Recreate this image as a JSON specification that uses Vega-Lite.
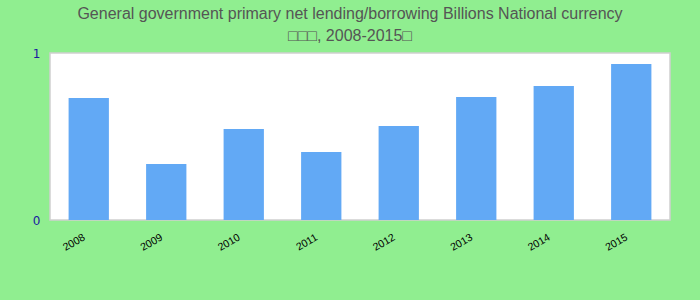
{
  "$schema": "https://vega.github.io/schema/vega-lite/v6.json",
  "width": 620,
  "height": 167,
  "autosize": "none",
  "padding": {"left": 50, "top": 53, "right": 30, "bottom": 80},
  "background": "#90EE90",
  "title": {
    "text": ["General government primary net lending/borrowing Billions National currency", "□□□, 2008-2015□"],
    "font": "Liberation Sans",
    "fontSize": 16,
    "fontWeight": "normal",
    "color": "#555555",
    "lineHeight": 22,
    "anchor": "middle",
    "dx": -10,
    "offset": 3
  },
  "config": {
    "view": {"fill": "white", "stroke": "#d0d0d0", "strokeWidth": 1.5}
  },
  "data": {
    "values": [
      {"year": "2008", "value": 0.73},
      {"year": "2009", "value": 0.335},
      {"year": "2010", "value": 0.545},
      {"year": "2011", "value": 0.407},
      {"year": "2012", "value": 0.563},
      {"year": "2013", "value": 0.737},
      {"year": "2014", "value": 0.802},
      {"year": "2015", "value": 0.934}
    ]
  },
  "mark": {"type": "bar", "color": "#62a9f5"},
  "encoding": {
    "x": {
      "field": "year",
      "type": "ordinal",
      "scale": {"paddingInner": 0.48, "paddingOuter": 0.24},
      "axis": {
        "title": null,
        "labelAngle": -30,
        "labelFont": "Liberation Sans",
        "labelFontSize": 10.5,
        "labelColor": "#000000",
        "labelPadding": 12,
        "labelOffset": -7,
        "ticks": false,
        "domain": false,
        "grid": false
      }
    },
    "y": {
      "field": "value",
      "type": "quantitative",
      "scale": {"domain": [0, 1], "nice": false},
      "axis": {
        "title": null,
        "values": [0, 1],
        "format": "d",
        "labelFont": "DejaVu Sans",
        "labelFontSize": 12,
        "labelColor": "#1a1aa0",
        "labelPadding": 10,
        "ticks": false,
        "domain": false,
        "grid": false
      }
    }
  }
}
